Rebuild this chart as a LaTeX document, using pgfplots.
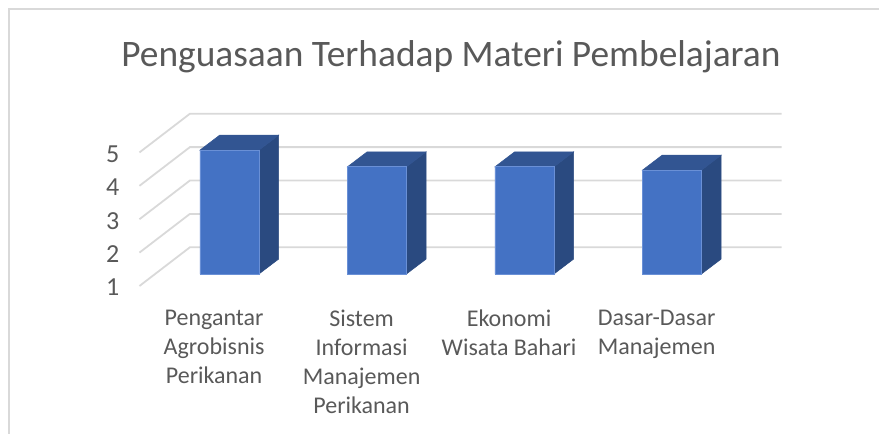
\documentclass[border=0pt]{standalone}
\usepackage{fontspec}
\setmainfont{Carlito}
\usepackage{pgfplots}
\pgfplotsset{compat=1.18}
\definecolor{barfront}{HTML}{4472C4}
\definecolor{baredge}{HTML}{6A90D6}
\definecolor{bartop}{HTML}{325592}
\definecolor{barside}{HTML}{2A4A80}
\definecolor{gridc}{HTML}{D9D9D9}
\definecolor{txt}{HTML}{595959}
\begin{document}
\begin{tikzpicture}
\path[use as bounding box] (0,0) rectangle (659.25pt,324.75pt);
\draw[gridc,line width=1.5pt] (7pt,-1pt) -- (7pt,318pt) -- (660pt,318pt);
\begin{axis}[
  at={(104.6pt,119.25pt)}, anchor=south west,
  scale only axis, width=481.65pt, height=120.2pt,
  xmin=-0.610, xmax=3.744, ymin=1, ymax=5.8,
  clip=false,
  axis line style={draw=none}, tick style={draw=none},
  xtick={0,1,2,3},
  xticklabels={{Pengantar\\Agrobisnis\\Perikanan},{Sistem\\Informasi\\Manajemen\\Perikanan},{Ekonomi\\Wisata Bahari},{Dasar-Dasar\\Manajemen}},
  x tick label style={align=center, anchor=north, xshift=-11.5pt, yshift=-23.5pt, text=txt, font=\fontsize{18}{21.8}\selectfont},
  ytick={1,2,3,4,5},
  /pgf/number format/assume math mode=true,
  y tick label style={anchor=center, xshift=-20pt, yshift=-10.2pt, text=txt, font=\fontsize{19.5}{22}\selectfont},
  title={Penguasaan Terhadap Materi Pembelajaran},
  title style={at={(axis description cs:0.485,1.304)}, anchor=center, text=txt, font=\fontsize{28.05}{32}\selectfont},
]
% gridlines: front end, back corner, right end
\addplot[gridc,line width=1.35pt] coordinates {(-0.610,0.641) (-0.268,1.8) (3.744,1.8)};
\addplot[gridc,line width=1.35pt] coordinates {(-0.610,1.641) (-0.268,2.8) (3.744,2.8)};
\addplot[gridc,line width=1.35pt] coordinates {(-0.610,2.641) (-0.268,3.8) (3.744,3.8)};
\addplot[gridc,line width=1.35pt] coordinates {(-0.610,3.641) (-0.268,4.8) (3.744,4.8)};
\addplot[gridc,line width=1.35pt] coordinates {(-0.610,4.641) (-0.268,5.8) (3.744,5.8)};
% side faces
\addplot[fill=barside,draw=barside] coordinates {(0.2,1) (0.334,1.449) (0.334,5.16) (0.2,4.71)} -- cycle;
\addplot[fill=barside,draw=barside] coordinates {(1.2,1) (1.334,1.449) (1.334,4.66) (1.2,4.21)} -- cycle;
\addplot[fill=barside,draw=barside] coordinates {(2.2,1) (2.334,1.449) (2.334,4.66) (2.2,4.21)} -- cycle;
\addplot[fill=barside,draw=barside] coordinates {(3.2,1) (3.334,1.449) (3.334,4.56) (3.2,4.11)} -- cycle;
% top faces
\addplot[fill=bartop,draw=bartop] coordinates {(-0.2,4.71) (0.2,4.71) (0.334,5.16) (-0.066,5.16)} -- cycle;
\addplot[fill=bartop,draw=bartop] coordinates {(0.8,4.21) (1.2,4.21) (1.334,4.66) (0.934,4.66)} -- cycle;
\addplot[fill=bartop,draw=bartop] coordinates {(1.8,4.21) (2.2,4.21) (2.334,4.66) (1.934,4.66)} -- cycle;
\addplot[fill=bartop,draw=bartop] coordinates {(2.8,4.11) (3.2,4.11) (3.334,4.56) (2.934,4.56)} -- cycle;
% front faces
\addplot[ybar, bar width=44.25pt, bar shift=0pt, fill=barfront, draw=baredge, line width=0.6pt] coordinates {(0,4.71) (1,4.21) (2,4.21) (3,4.11)};
\end{axis}
\end{tikzpicture}
\end{document}
